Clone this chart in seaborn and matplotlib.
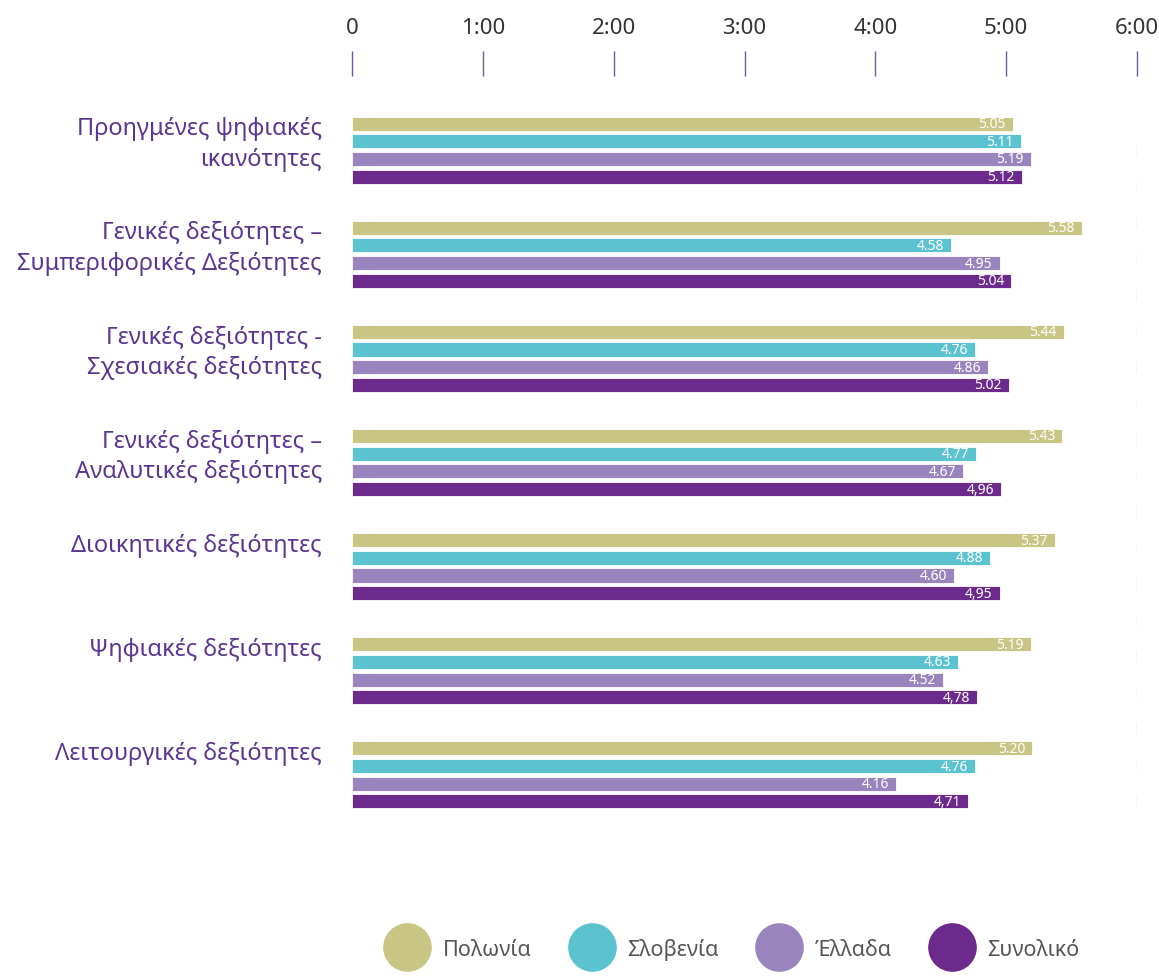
import matplotlib
matplotlib.use("Agg")
import matplotlib.pyplot as plt
from matplotlib.lines import Line2D
from matplotlib.transforms import blended_transform_factory
import seaborn as sns
import pandas as pd

categories = [
    "Προηγμένες ψηφιακές\nικανότητες",
    "Γενικές δεξιότητες –\nΣυμπεριφορικές Δεξιότητες",
    "Γενικές δεξιότητες -\nΣχεσιακές δεξιότητες",
    "Γενικές δεξιότητες –\nΑναλυτικές δεξιότητες",
    "Διοικητικές δεξιότητες",
    "Ψηφιακές δεξιότητες",
    "Λειτουργικές δεξιότητες",
]
series = ["Πολωνία", "Σλοβενία", "Έλλαδα", "Συνολικό"]
poland = [5.05, 5.58, 5.44, 5.43, 5.37, 5.19, 5.20]
slovenia = [5.11, 4.58, 4.76, 4.77, 4.88, 4.63, 4.76]
greece = [5.19, 4.95, 4.86, 4.67, 4.60, 4.52, 4.16]
total = [5.12, 5.04, 5.02, 4.96, 4.95, 4.78, 4.71]
label_poland = ["5.05", "5.58", "5.44", "5.43", "5.37", "5.19", "5.20"]
label_slovenia = ["5.11", "4.58", "4.76", "4.77", "4.88", "4.63", "4.76"]
label_greece = ["5.19", "4.95", "4.86", "4.67", "4.60", "4.52", "4.16"]
label_total = ["5.12", "5.04", "5.02", "4,96", "4,95", "4,78", "4,71"]
tick_values = [0, 1, 2, 3, 4, 5, 6]
tick_labels = ["0", "1:00", "2:00", "3:00", "4:00", "5:00", "6:00"]
colors = ["#c8c585", "#5bc3d0", "#9a84bd", "#6c2a8c"]

rows = []
for s, vals in zip(series, [poland, slovenia, greece, total]):
    for c, v in zip(categories, vals):
        rows.append({"category": c, "series": s, "value": v})
df = pd.DataFrame(rows)

sns.set_style("white")
plt.rcParams["font.family"] = ["Noto Sans", "DejaVu Sans"]

fig = plt.figure(figsize=(11.59, 9.78), dpi=100)
ax = fig.add_axes([352 / 1159, 1 - 830 / 978, (1137 - 352) / 1159, (830 - 77) / 978])

bar_width = 0.68
sns.barplot(data=df, y="category", x="value", hue="series", order=categories,
            hue_order=series, palette=colors, saturation=1, orient="h",
            width=bar_width, gap=0.2, edgecolor="white", linewidth=0.6, ax=ax,
            legend=False)

ax.set_xlim(0, 6)
ax.set_ylim(6.52, -0.712)
ax.set_xlabel("")
ax.set_ylabel("")

for s in ax.spines.values():
    s.set_visible(False)

ax.xaxis.tick_top()
ax.set_xticks(tick_values)
ax.set_xticklabels(tick_labels, fontsize=16, fontstretch="condensed", color="#333333")
ax.tick_params(axis="x", direction="out", length=18, width=1.0, color="#6d5a9c", pad=9,
               top=True, bottom=False)

# category labels: right aligned, top aligned with each group's first bar
ax.set_yticks(range(len(categories)))
ax.set_yticklabels([""] * len(categories))
ax.tick_params(axis="y", length=0)
trans = blended_transform_factory(ax.transAxes, ax.transData)
for i, c in enumerate(categories):
    ax.text(-30 / 785, i - bar_width / 2 + 0.015, c, transform=trans, ha="right", va="top",
            multialignment="right", fontsize=17, color="#5a3592", linespacing=1.35)

ax.axvline(6, ymin=0.03, ymax=0.93, color="#cfcfcf", linewidth=1.0, linestyle=(0, (8, 18)))

for cont, labs in zip(ax.containers, [label_poland, label_slovenia, label_greece, label_total]):
    texts = ax.bar_label(cont, labels=labs, padding=-5, color="white", fontsize=10,
                         fontweight="bold")
    for t in texts:
        t.set_ha("right")

handles = [Line2D([0], [0], marker="o", linestyle="", markersize=34,
                  markerfacecolor=c, markeredgecolor=c) for c in colors]
fig.legend(handles, series, loc="center", bbox_to_anchor=(0.634, 0.029), ncol=4,
           frameon=False, handlelength=1.6, handletextpad=0.85, columnspacing=2.0,
           prop={"size": 15.5, "stretch": "condensed"}, labelcolor="#555555")

fig.savefig("out.png", dpi=100)
